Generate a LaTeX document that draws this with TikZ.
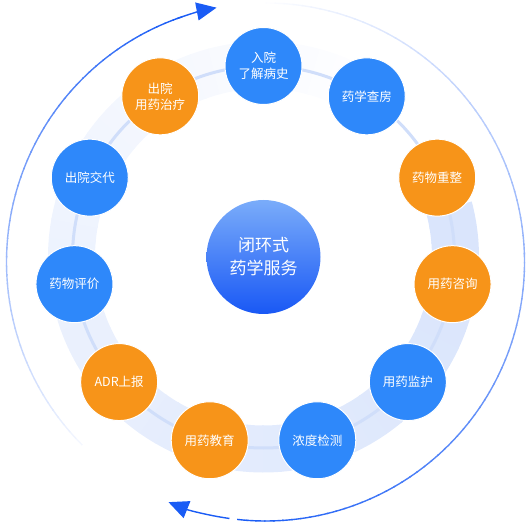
\documentclass[tikz,border=0pt]{standalone}
\usepackage{fontspec}
\setmainfont{Noto Sans CJK SC}
\usetikzlibrary{arrows.meta}
\definecolor{nblue}{RGB}{46,136,250}
\definecolor{norange}{RGB}{247,148,25}
\definecolor{dblue}{RGB}{26,92,245}
\definecolor{bandc}{RGB}{218,229,252}
\definecolor{bline}{RGB}{208,222,250}
\definecolor{ctop}{RGB}{122,172,250}
\definecolor{cbot}{RGB}{25,88,245}
\begin{document}
\begin{tikzpicture}[x=1pt,y=1pt,
  circ/.style={circle, minimum size=77pt, inner sep=0pt, draw=white, line width=1pt,
    text=white, font=\fontsize{12.5}{16}\selectfont, align=center},
  bnode/.style={circ, fill=nblue},
  onode/.style={circ, fill=norange},
  outer/.style={line width=1.4pt},
  tipst/.style={-{Triangle[length=20pt,width=18pt]}, dblue, line width=1.4pt}]
\useasboundingbox (0,0) rectangle (532,527);
\coordinate (C) at (263.5,270);
\coordinate (O) at (265.5,265);
% band with fading
\foreach \i in {0,...,64}{
  \pgfmathsetmacro{\a}{15-\i*5}
  \pgfmathsetmacro{\b}{\a-5.4}
  \pgfmathsetmacro{\p}{100-100*(\i/64)^1.3}
  \draw[line width=47pt, color=bandc!\p!white] (C) ++(\a:192) arc[start angle=\a, end angle=\b, radius=192];
}
\draw[bline, line width=3pt] (C) circle[radius=191];
% left outer arc
\foreach \i in {0,...,57}{
  \pgfmathsetmacro{\a}{225-\i*2}
  \pgfmathsetmacro{\b}{\a-2.3}
  \pgfmathsetmacro{\p}{5+95*\i/57}
  \draw[outer, color=dblue!\p!white] (O) ++(\a:259) arc[start angle=\a, end angle=\b, radius=259];
}
\draw[tipst] (O) ++(110:259) arc[start angle=110, end angle=100.9, radius=259];
% right outer arc
\foreach \i in {0,...,93}{
  \pgfmathsetmacro{\a}{92-\i*2}
  \pgfmathsetmacro{\b}{\a-2.3}
  \pgfmathsetmacro{\p}{100*\i/93}
  \draw[outer, color=dblue!\p!white] (O) ++(\a:259) arc[start angle=\a, end angle=\b, radius=259];
}
\draw[tipst] (O) ++(-98:259) arc[start angle=-98, end angle=-112, radius=259];
% nodes
\node[bnode] (n0) at ([shift={(C)}]90:191) {入院\\了解病史};
\node[bnode] (n1) at ([shift={(C)}]57.27:191) {药学查房};
\node[onode] (n2) at ([shift={(C)}]24.55:191) {药物重整};
\node[onode] (n3) at ([shift={(C)}]-8.18:191) {用药咨询};
\node[bnode] (n4) at ([shift={(C)}]-40.91:191) {用药监护};
\node[bnode] (n5) at ([shift={(C)}]-73.64:191) {浓度检测};
\node[onode] (n6) at ([shift={(C)}]-106.36:191) {用药教育};
\node[onode] (n7) at ([shift={(C)}]-139.09:191) {ADR上报};
\node[bnode] (n8) at ([shift={(C)}]-171.82:191) {药物评价};
\node[bnode] (n9) at ([shift={(C)}]155.45:191) {出院交代};
\node[onode] (n10) at ([shift={(C)}]122.73:191) {出院\\用药治疗};
% center
\node[circle, minimum size=114pt, inner sep=0pt, top color=ctop, bottom color=cbot,
  text=white, font=\fontsize{17}{23}\selectfont, align=center] (c) at (C) {闭环式\\药学服务};
\end{tikzpicture}
\end{document}
